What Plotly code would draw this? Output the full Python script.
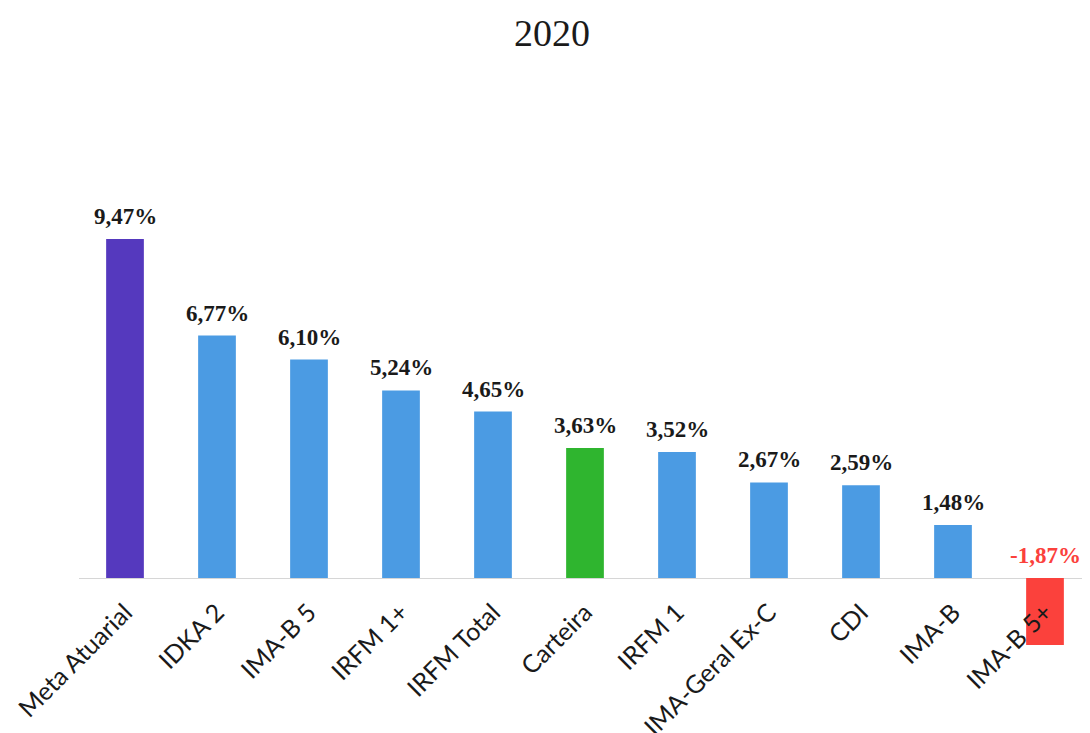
"""Retorno 2020 por índice - gráfico de barras com Plotly."""

import plotly.graph_objects as go

CATEGORIES = [
    "Meta Atuarial", "IDKA 2", "IMA-B 5", "IRFM 1+", "IRFM Total", "Carteira",
    "IRFM 1", "IMA-Geral Ex-C", "CDI", "IMA-B", "IMA-B 5+",
]
VALUES = [9.47, 6.77, 6.10, 5.24, 4.65, 3.63, 3.52, 2.67, 2.59, 1.48, -1.87]
LABELS = ["9,47%", "6,77%", "6,10%", "5,24%", "4,65%", "3,63%", "3,52%",
          "2,67%", "2,59%", "1,48%", "-1,87%"]

PURPLE = "#5539be"
BLUE = "#4b9be3"
GREEN = "#2fb52f"
RED = "#fb413c"
TEXT_COLOR = "#1a1a1a"


def bar_color(name, value):
    if name == "Meta Atuarial":
        return PURPLE
    if name == "Carteira":
        return GREEN
    if value < 0:
        return RED
    return BLUE


colors = [bar_color(c, v) for c, v in zip(CATEGORIES, VALUES)]

fig = go.Figure()

fig.add_trace(
    go.Bar(
        x=CATEGORIES,
        y=VALUES,
        marker={"color": colors, "line": {"width": 0}},
        hoverinfo="skip",
    )
)

# value labels always sit above the bar / zero line
annotations = [
    {
        "x": cat,
        "y": max(val, 0),
        "text": f"<b>{lab}</b>",
        "showarrow": False,
        "yanchor": "bottom",
        "yshift": 8,
        "font": {"family": "Liberation Serif", "size": 23,
                 "color": RED if val < 0 else TEXT_COLOR},
    }
    for cat, val, lab in zip(CATEGORIES, VALUES, LABELS)
]

fig.update_layout(
    width=1090,
    height=733,
    paper_bgcolor="#ffffff",
    plot_bgcolor="#ffffff",
    showlegend=False,
    bargap=0.59,
    margin={"l": 71, "r": 7, "t": 92, "b": 81},
    annotations=annotations,
    title={
        "text": "2020",
        "x": 0.499,
        "xanchor": "center",
        "y": 0.966,
        "yanchor": "middle",
        "font": {"family": "Liberation Serif", "size": 38, "color": TEXT_COLOR},
    },
)

fig.update_xaxes(
    range=[-0.5, 10.5],
    anchor="free",
    position=0.143,
    tickangle=-45,
    tickfont={"family": "Lato", "size": 25, "color": TEXT_COLOR},
    ticklabelstandoff=12,
    showgrid=False,
    showline=False,
    ticks="",
    automargin=False,
)

fig.update_yaxes(
    range=[-2.29, 13.35],
    visible=True,
    showticklabels=False,
    showgrid=False,
    zeroline=True,
    zerolinecolor="#d6d6d6",
    zerolinewidth=1,
    automargin=False,
)

fig.write_html("out.html")
